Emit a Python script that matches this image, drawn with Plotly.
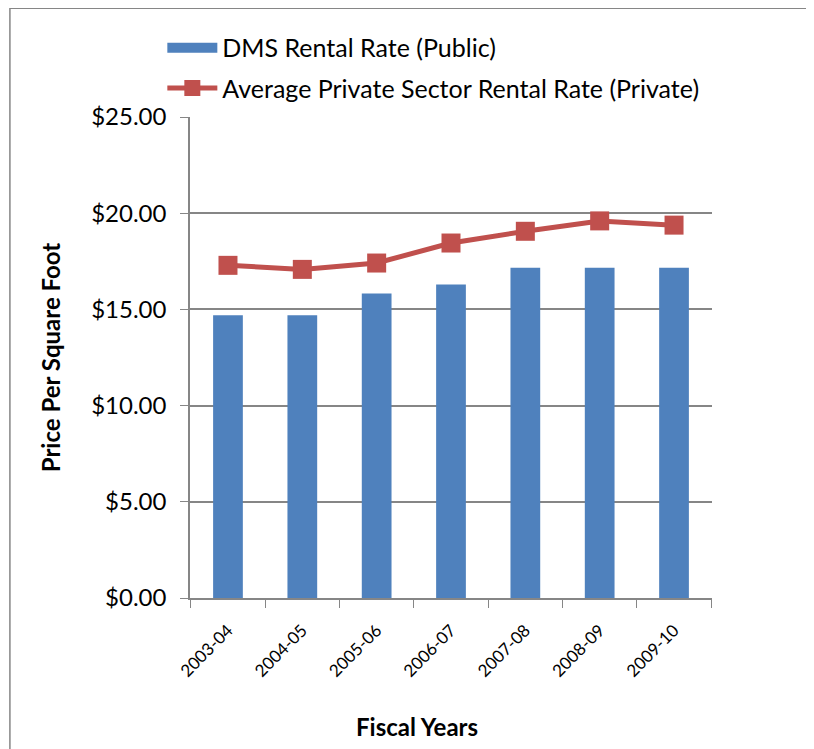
import plotly.graph_objects as go

# Chart data
years = ['2003-04', '2004-05', '2005-06', '2006-07', '2007-08', '2008-09', '2009-10']
public_rate = [14.69, 14.69, 15.82, 16.29, 17.17, 17.17, 17.17]
private_rate = [17.29, 17.08, 17.41, 18.45, 19.06, 19.60, 19.38]

font_family = 'Lato, "Open Sans", sans-serif'
axis_grey = 'rgb(134, 134, 134)'
blue = 'rgb(79, 129, 189)'
red = 'rgb(192, 80, 77)'

fig = go.Figure()

# Bars for the public rate
fig.add_trace(go.Bar(
    x=years,
    y=public_rate,
    name='DMS Rental Rate (Public)',
    marker=dict(color=blue, line=dict(width=0)),
    showlegend=False,
))

# Legend entry for the bars, drawn as a wide block like the original
fig.add_trace(go.Scatter(
    x=[None],
    y=[None],
    name='DMS Rental Rate (Public)',
    mode='lines',
    line=dict(color=blue, width=13),
    legend='legend',
))

# Line for the private rate
fig.add_trace(go.Scatter(
    x=years,
    y=private_rate,
    name='Average Private Sector Rental Rate (Private)',
    mode='lines+markers',
    line=dict(color=red, width=5),
    marker=dict(symbol='square', size=19, color=red),
    legend='legend2',
))

# Outer border of the chart
fig.add_shape(type='rect', xref='paper', yref='paper',
              x0=-0.345, x1=1.188, y0=-0.5, y1=1.226,
              line=dict(color=axis_grey, width=1.5), layer='below')

# X axis title sits a bit left of the plot centre in the original
fig.add_annotation(text='<b>Fiscal Years</b>', xref='paper', yref='paper',
                   x=0.435, y=-0.268, xanchor='center', yanchor='middle',
                   showarrow=False, font=dict(size=24))

fig.update_layout(
    width=806,
    height=741,
    margin=dict(l=182, r=102, t=109, b=151, autoexpand=False),
    paper_bgcolor='white',
    plot_bgcolor='white',
    font=dict(family=font_family, color='black'),
    bargap=0.6,
    showlegend=True,
    legend=dict(
        x=-0.053, y=1.1435, xanchor='left', yanchor='middle',
        font=dict(size=25), bgcolor='rgba(0,0,0,0)', itemwidth=50,
    ),
    legend2=dict(
        x=-0.053, y=1.06, xanchor='left', yanchor='middle',
        font=dict(size=25), bgcolor='rgba(0,0,0,0)', itemwidth=50,
    ),
    xaxis=dict(
        type='category',
        showgrid=False,
        showline=True,
        linecolor=axis_grey,
        linewidth=1.5,
        ticks='outside',
        tickson='boundaries',
        ticklen=8,
        tickcolor=axis_grey,
        tickangle=-45,
        tickfont=dict(size=17),
        ticklabelstandoff=14,
    ),
    yaxis=dict(
        title=dict(text='<b>Price Per Square Foot</b>', font=dict(size=24), standoff=24),
        range=[0, 25],
        dtick=5,
        tickprefix='$',
        tickformat='.2f',
        showgrid=True,
        gridcolor=axis_grey,
        gridwidth=1.5,
        showline=True,
        linecolor=axis_grey,
        linewidth=1.5,
        ticks='outside',
        ticklen=8,
        tickcolor=axis_grey,
        tickfont=dict(size=24),
        ticklabelstandoff=9,
        zeroline=False,
    ),
)

fig.write_html("out.html")
